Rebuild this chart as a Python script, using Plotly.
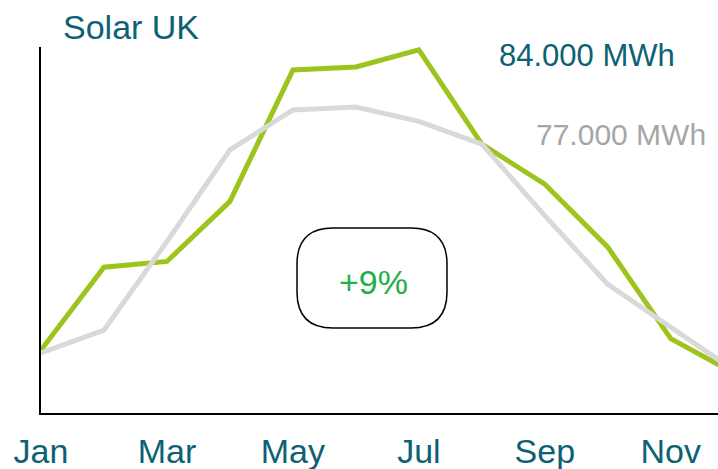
import plotly.graph_objects as go

months = ["Jan", "Feb", "Mar", "Apr", "May", "Jun", "Jul", "Aug", "Sep", "Oct", "Nov", "Dec"]
current_mwh = [2200, 5100, 5300, 7400, 12000, 12100, 12700, 9400, 8000, 5800, 2600, 1400]
previous_mwh = [2100, 2900, 6000, 9200, 10600, 10700, 10200, 9400, 6900, 4500, 3000, 1500]
tick_months = ["Jan", "Mar", "May", "Jul", "Sep", "Nov"]
title_text = "Solar UK"
current_label = "84.000 MWh"
previous_label = "77.000 MWh"
change_label = "+9%"

TEAL = "#0d6174"
GREEN = "#9dc41c"
GRAY = "#d9d9d9"
FONT = "Liberation Sans, Arial, sans-serif"

W, H = 718, 469
L, R, T, B = 41, 0, 47, 56
pw, ph = W - L - R, H - T - B

def px(x):
    return (x - L) / pw

def py(y):
    return (H - B - y) / ph

fig = go.Figure()
fig.add_trace(go.Scatter(x=months, y=current_mwh, mode="lines",
                         line=dict(color=GREEN, width=5), hoverinfo="skip"))
fig.add_trace(go.Scatter(x=months, y=previous_mwh, mode="lines",
                         line=dict(color=GRAY, width=5), hoverinfo="skip"))

# rounded box
x0, x1, y0, y1 = px(297), px(447), py(328), py(228)
rx, ry = 36 / pw, 36 / ph
path = (f"M {x0+rx},{y1} L {x1-rx},{y1} Q {x1},{y1} {x1},{y1-ry} "
        f"L {x1},{y0+ry} Q {x1},{y0} {x1-rx},{y0} L {x0+rx},{y0} "
        f"Q {x0},{y0} {x0},{y0+ry} L {x0},{y1-ry} Q {x0},{y1} {x0+rx},{y1} Z")
fig.add_shape(type="path", path=path, xref="paper", yref="paper",
              line=dict(color="black", width=1.5), fillcolor="rgba(0,0,0,0)")

fig.add_annotation(text=title_text, xref="paper", yref="paper", x=px(61), y=py(27),
                   xanchor="left", yanchor="middle", showarrow=False,
                   font=dict(family=FONT, size=34, color=TEAL))
fig.add_annotation(text=current_label, xref="paper", yref="paper", x=px(497), y=py(55),
                   xanchor="left", yanchor="middle", showarrow=False,
                   font=dict(family=FONT, size=31, color=TEAL))
fig.add_annotation(text=previous_label, xref="paper", yref="paper", x=px(534), y=py(134),
                   xanchor="left", yanchor="middle", showarrow=False,
                   font=dict(family=FONT, size=30, color="#a6a6a6"))
fig.add_annotation(text=change_label, xref="paper", yref="paper", x=px(373), y=py(282),
                   xanchor="center", yanchor="middle", showarrow=False,
                   font=dict(family=FONT, size=34, color="#1fb04b"))

fig.update_layout(
    width=W, height=H,
    margin=dict(l=L, r=R, t=T, b=B, pad=0, autoexpand=False),
    paper_bgcolor="white", plot_bgcolor="white",
    showlegend=False,
    font=dict(family=FONT),
    xaxis=dict(type="category", range=[0, 10.75], tickmode="array", tickvals=tick_months,
               automargin=False,
               showgrid=False, zeroline=False, showline=True, linecolor="black", linewidth=2,
               ticks="outside", ticklen=7, tickcolor="rgba(0,0,0,0)",
               tickfont=dict(family=FONT, size=34, color=TEAL)),
    yaxis=dict(range=[0, 12800], showgrid=False, zeroline=False, showticklabels=False,
               automargin=False,
               showline=True, linecolor="black", linewidth=2, ticks=""),
)

fig.write_html("out.html", config={"displayModeBar": False},
               post_script="document.body.style.margin='0px';")
